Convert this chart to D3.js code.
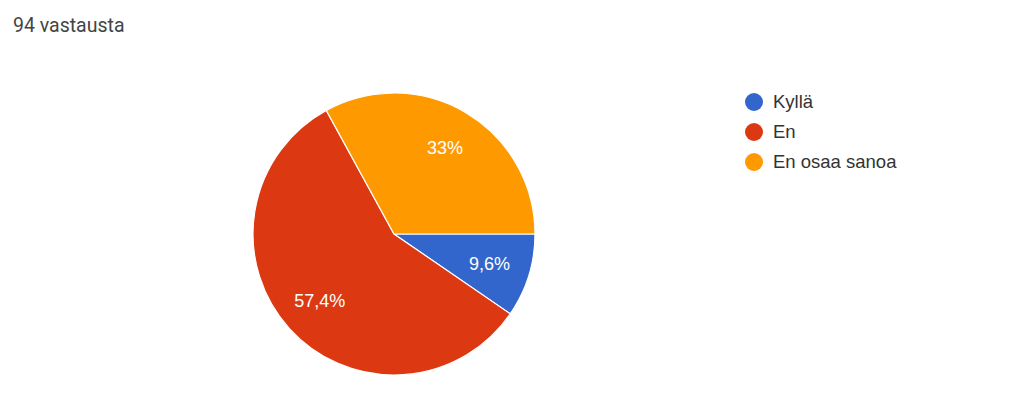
<!DOCTYPE html>
<html><head><meta charset="utf-8">
<script src="https://cdn.jsdelivr.net/npm/d3@7"></script>
<style>body{margin:0;background:#fff;}svg{display:block;}</style>
</head><body>
<svg id="c" width="1024" height="416"></svg>
<script>
const categories = ["Kyllä", "En", "En osaa sanoa"];
const counts = [9, 54, 31];
const labels = ["9,6%", "57,4%", "33%"];
const colors = ["#3366cc", "#dc3912", "#ff9900"];
const title = "94 vastausta";

const svg = d3.select("#c");
const font = "Roboto, Arial, sans-serif";
const font2 = "'Liberation Sans', Arial, sans-serif";
svg.append("text").attr("x", 13).attr("y", 32).attr("font-family", font)
  .attr("font-size", 19.5).attr("fill", "#444").text(title);

const cx = 394, cy = 234, r = 141;
const pie = d3.pie().sort(null).startAngle(Math.PI/2).endAngle(Math.PI/2 + 2*Math.PI);
const arcs = pie(counts);
const arc = d3.arc().innerRadius(0).outerRadius(r);
const labelArc = d3.arc().innerRadius(100).outerRadius(100);
const g = svg.append("g").attr("transform", `translate(${cx},${cy})`);
g.selectAll("path").data(arcs).enter().append("path")
  .attr("d", arc).attr("fill", (d,i)=>colors[i]).attr("stroke", "#fff").attr("stroke-width", 1.2);
g.selectAll("text").data(arcs).enter().append("text")
  .attr("transform", d=>`translate(${labelArc.centroid(d)})`)
  .attr("text-anchor", "middle").attr("dy", "0.35em")
  .attr("font-family", font2).attr("font-size", 18).attr("fill", "#fff")
  .text((d,i)=>labels[i]);

const lg = svg.append("g").attr("transform", "translate(754,102)");
categories.forEach((c,i)=>{
  const row = lg.append("g").attr("transform", `translate(0,${i*30})`);
  row.append("circle").attr("r", 9).attr("fill", colors[i]);
  row.append("text").attr("x", 19).attr("dy", "0.35em").attr("font-family", font2)
    .attr("font-size", 18.5).attr("fill", "#333").text(c);
});
</script>
</body></html>
